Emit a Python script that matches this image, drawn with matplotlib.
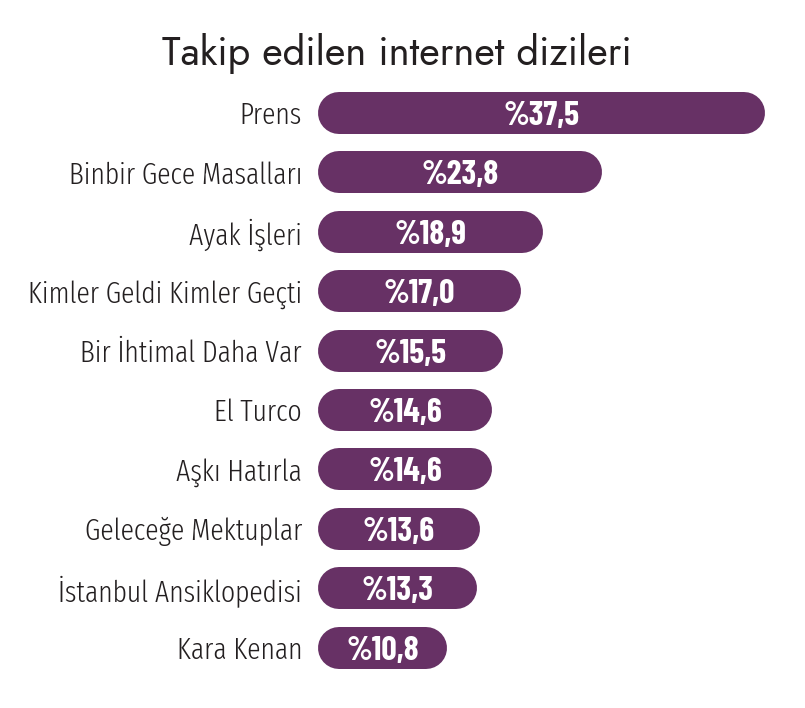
import matplotlib
matplotlib.use("Agg")
import matplotlib.pyplot as plt

categories = ["Prens", "Binbir Gece Masalları", "Ayak İşleri", "Kimler Geldi Kimler Geçti",
              "Bir İhtimal Daha Var", "El Turco", "Aşkı Hatırla", "Geleceğe Mektuplar",
              "İstanbul Ansiklopedisi", "Kara Kenan"]
values = [37.5, 23.8, 18.9, 17.0, 15.5, 14.6, 14.6, 13.6, 13.3, 10.8]
value_labels = ["%37,5", "%23,8", "%18,9", "%17,0", "%15,5", "%14,6", "%14,6", "%13,6", "%13,3", "%10,8"]
title = "Takip edilen internet dizileri"

BAR = "#673165"
TXT = "#231f20"
LABEL_FONT = ["Fira Sans Extra Condensed", "Barlow Condensed", "DejaVu Sans"]
VALUE_FONT = ["Barlow Condensed", "DejaVu Sans"]
TITLE_FONT = ["Jost", "Lato", "DejaVu Sans"]

W, H = 805, 708
fig = plt.figure(figsize=(W / 100, H / 100), dpi=100)
fig.patch.set_facecolor("white")
renderer = fig.canvas.get_renderer()


def fit(t, target_px):
    w = t.get_window_extent(renderer=renderer).width
    t.set_fontsize(t.get_fontsize() * target_px / w)
    return t.get_fontsize()


left_px, right_px = 318, 790
top_px, row_px = 83.3, 59.4
n = len(categories)
ax = fig.add_axes([left_px / W, 1 - (top_px + row_px * n) / H, (right_px - left_px) / W, row_px * n / H])
px_per_unit = 11.92
ax.set_xlim(0, (right_px - left_px) / px_per_unit)
ax.set_ylim(n - 0.5, -0.5)
ax.axis("off")

bar_h_px = 42
r_units = (bar_h_px / 2) / px_per_unit
lw_pt = bar_h_px * 72 / 100

# size calibration
probe = fig.text(0, 0, "Kimler Geldi Kimler Geçti", fontsize=27, fontweight=300, family=LABEL_FONT)
label_size = fit(probe, 275)
probe.remove()
probe = fig.text(0, 0, "%37,5", fontsize=25, fontweight="bold", family=VALUE_FONT)
value_size = fit(probe, 76)
probe.remove()

for i, (v, lab) in enumerate(zip(values, value_labels)):
    ax.plot([r_units, v - r_units], [i, i], color=BAR, lw=lw_pt, solid_capstyle="round")
    ax.text(v / 2, i, lab, ha="center", va="center_baseline", color="white",
            fontsize=value_size, fontweight="bold", family=VALUE_FONT)
    ax.text(-16 / px_per_unit, i, categories[i], ha="right", va="center_baseline", color=TXT,
            fontsize=label_size, fontweight=300, family=LABEL_FONT)

tt = fig.text(397 / W, 1 - 65 / H, title, ha="center", va="baseline", color=TXT,
              fontsize=27, fontweight=200, family=TITLE_FONT)
fit(tt, 470)

fig.savefig("out.png", dpi=100)
